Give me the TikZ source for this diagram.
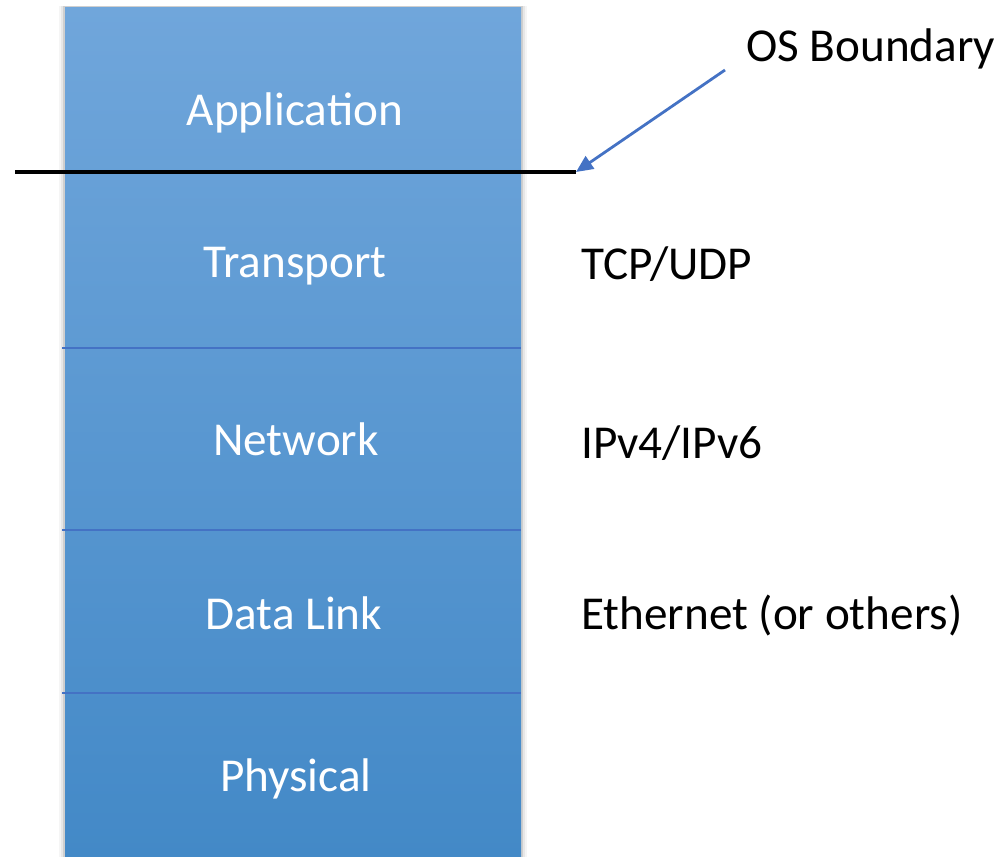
\documentclass[tikz,border=0pt]{standalone}
\usepackage{fontspec}
\setmainfont{Carlito}
\usetikzlibrary{arrows.meta}
\definecolor{topblue}{HTML}{70A6DB}
\definecolor{botblue}{HTML}{4389C7}
\definecolor{sepblue}{HTML}{4472C4}
\definecolor{arrblue}{HTML}{4472C4}
\tikzset{
  layer/.style={anchor=base, inner sep=0pt, text=white, font=\fontsize{47.2}{50}\selectfont},
  side/.style={anchor=base west, inner sep=0pt, text=black, font=\fontsize{47.2}{50}\selectfont},
  sep/.style={draw=sepblue, line width=1.2pt},
}
\begin{document}
\begin{tikzpicture}[x=1pt,y=-1pt]
\useasboundingbox (0,0) rectangle (1005,857);
% soft shadow
\foreach \d/\o in {6/0.04,4/0.06,2/0.10}{
  \fill[black, opacity=\o] (65-\d,7-1) rectangle (521+\d,857);
}
\shade[top color=topblue, bottom color=botblue] (65,7) rectangle (521,857);
% separators
\draw[sep] (62,348) -- (521,348);
\draw[sep] (62,530) -- (521,530);
\draw[sep] (62,693) -- (521,693);
% layer labels
\node[layer] (app) at (295,125) {Application};
\node[layer] (trn) at (295,277) {Transport};
\node[layer] (net) at (296,455) {Network};
\node[layer] (dl) at (294,629) {Data Link};
\node[layer] (phy) at (296,791) {Physical};
% side labels
\node[side] (os) at (746,61) {OS Boundary};
\node[side] (tcp) at (581,279) {TCP/UDP};
\node[side] (ip) at (581,458) {IPv4/IPv6};
\node[side] (eth) at (581,629) {Ethernet (or others)};
% OS boundary line
\coordinate (bStart) at (15,172);
\coordinate (bEnd) at (576,172);
\draw[black, line width=4.2pt] (bStart) -- (bEnd);
\coordinate (aStart) at (725,70);
\draw[arrblue, line width=2.8pt, -{Triangle[length=17pt,width=15pt]}] (aStart) -- (bEnd);
\end{tikzpicture}
\end{document}
